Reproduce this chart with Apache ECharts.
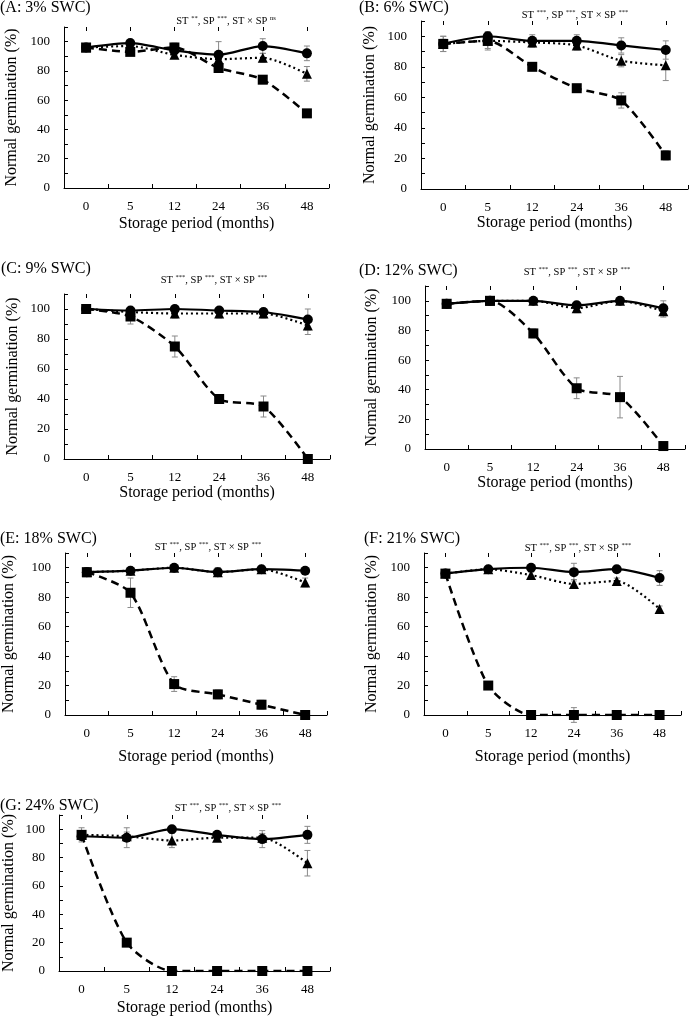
<!DOCTYPE html>
<html>
<head>
<meta charset="utf-8">
<script src="https://cdn.jsdelivr.net/npm/echarts@6/dist/echarts.min.js"></script>
<style>html,body{margin:0;padding:0;background:#fff;}#c{width:694px;height:1019px;}</style>
</head>
<body>
<div id="c"></div>
<script>
// ---- data ----
const categories = ['0', '5', '12', '24', '36', '48'];
const yTickLabels = [0, 20, 40, 60, 80, 100];
const panelTitles = ['(A: 3% SWC)', '(B: 6% SWC)', '(C: 9% SWC)', '(D: 12% SWC)', '(E: 18% SWC)', '(F: 21% SWC)', '(G: 24% SWC)'];
const sigST = ['**', '***', '***', '***', '***', '***', '***'];
const sigSP = ['***', '***', '***', '***', '***', '***', '***'];
const sigInt = ['ns', '***', '***', '***', '***', '***', '***'];

const A_circle = [96, 99, 94, 91, 97, 92];   const A_circleErr = [2, 2, 3, 9, 5, 5];
const A_triangle = [96, 97, 91, 88, 89, 78]; const A_triangleErr = [2, 2, 2, 2, 3, 5];
const A_square = [96, 93, 96, 82, 74, 51];   const A_squareErr = [2, 2, 3, 3, 2, 2];

const B_circle = [95, 100, 97, 97, 94, 91];  const B_circleErr = [5, 2, 4, 4, 5, 6];
const B_triangle = [95, 97, 96, 94, 84, 81]; const B_triangleErr = [3, 6, 3, 3, 4, 10];
const B_square = [95, 97, 80, 66, 58, 22];   const B_squareErr = [5, 5, 2, 2, 5, 3];

const C_circle = [100, 99, 100, 99, 98, 93]; const C_circleErr = [1, 2, 2, 2, 2, 7];
const C_triangle = [100, 98, 97, 97, 97, 89]; const C_triangleErr = [1, 2, 3, 3, 3, 6];
const C_square = [100, 95, 75, 40, 35, 0];   const C_squareErr = [1, 5, 7, 2, 7, 0];

const D_circle = [98, 100, 100, 97, 100, 95]; const D_circleErr = [1, 1, 1, 2, 1, 5];
const D_triangle = [98, 100, 100, 95, 100, 93]; const D_triangleErr = [1, 1, 1, 3, 1, 4];
const D_square = [98, 100, 78, 41, 35, 2];   const D_squareErr = [1, 1, 3, 7, 14, 1];

const E_circle = [97, 98, 100, 97, 99, 98];  const E_circleErr = [2, 2, 1, 3, 2, 2];
const E_triangle = [97, 98, 100, 97, 99, 90]; const E_triangleErr = [2, 2, 1, 3, 2, 3];
const E_square = [97, 83, 21, 14, 7, 0];     const E_squareErr = [3, 10, 5, 3, 3, 0];

const F_circle = [96, 99, 100, 97, 99, 93];  const F_circleErr = [2, 2, 1, 6, 2, 5];
const F_triangle = [96, 99, 95, 89, 91, 72]; const F_triangleErr = [2, 2, 2, 3, 2, 2];
const F_square = [96, 20, 0, 0, 0, 0];       const F_squareErr = [2, 2, 2, 5, 1, 0];

const G_circle = [95, 94, 100, 96, 93, 96];  const G_circleErr = [2, 7, 1, 2, 6, 6];
const G_triangle = [96, 95, 92, 94, 94, 76]; const G_triangleErr = [2, 3, 5, 2, 3, 9];
const G_square = [96, 20, 0, 0, 0, 0];       const G_squareErr = [5, 1, 0, 0, 0, 0];

const panelData = [
  [A_circle, A_circleErr, A_triangle, A_triangleErr, A_square, A_squareErr],
  [B_circle, B_circleErr, B_triangle, B_triangleErr, B_square, B_squareErr],
  [C_circle, C_circleErr, C_triangle, C_triangleErr, C_square, C_squareErr],
  [D_circle, D_circleErr, D_triangle, D_triangleErr, D_square, D_squareErr],
  [E_circle, E_circleErr, E_triangle, E_triangleErr, E_square, E_squareErr],
  [F_circle, F_circleErr, F_triangle, F_triangleErr, F_square, F_squareErr],
  [G_circle, G_circleErr, G_triangle, G_triangleErr, G_square, G_squareErr]
];

// ---- layout ----
const layout = [
  {left: 64,  top: 27,  width: 265, height: 161, tx: 0,   ty: 9,   ax: 226, ay: 21,  xGap: 28, yGap: 44},
  {left: 421, top: 21,  width: 267, height: 168, tx: 359, ty: 9,   ax: 575, ay: 15,  xGap: 26, yGap: 43},
  {left: 64,  top: 294, width: 266, height: 165, tx: 1,   ty: 270, ax: 214, ay: 280, xGap: 24, yGap: 43},
  {left: 425, top: 286, width: 260, height: 163, tx: 359, ty: 272, ax: 577, ay: 272, xGap: 22, yGap: 45},
  {left: 64,  top: 553, width: 263, height: 162, tx: 0,   ty: 540, ax: 208, ay: 547, xGap: 34, yGap: 48},
  {left: 424, top: 553, width: 257, height: 162, tx: 364, ty: 540, ax: 578, ay: 548, xGap: 34, yGap: 44},
  {left: 58,  top: 815, width: 272, height: 156, tx: 0,   ty: 807, ax: 228, ay: 808, xGap: 29, yGap: 42}
];

const FONT = 'Liberation Serif';
const grids = [], xAxes = [], yAxes = [], series = [], graphics = [];

function errRender(params, api) {
  const x = api.value(0), y = api.value(1), e = api.value(2);
  if (!e) return null;
  const hi = api.coord([x, y + e]);
  const lo = api.coord([x, y - e]);
  const w = 3;
  const st = {stroke: '#8a8a8a', lineWidth: 1};
  return {type: 'group', children: [
    {type: 'line', shape: {x1: hi[0], y1: hi[1], x2: lo[0], y2: lo[1]}, style: st},
    {type: 'line', shape: {x1: hi[0] - w, y1: hi[1], x2: hi[0] + w, y2: hi[1]}, style: st},
    {type: 'line', shape: {x1: lo[0] - w, y1: lo[1], x2: lo[0] + w, y2: lo[1]}, style: st}
  ]};
}

const styles = [
  {symbol: 'circle', size: 10, line: {type: 'solid', width: 2.2}},
  {symbol: 'triangle', size: 10, line: {type: [2, 3], width: 2.2}},
  {symbol: 'rect', size: 10, line: {type: [8, 5], width: 2.5}}
];

layout.forEach((L, g) => {
  grids.push({left: L.left, top: L.top, width: L.width, height: L.height, containLabel: false});
  xAxes.push({
    type: 'category', gridIndex: g, data: categories, boundaryGap: true,
    name: 'Storage period (months)', nameLocation: 'middle', nameGap: L.xGap,
    nameTextStyle: {fontFamily: FONT, fontSize: 16, color: '#000'},
    axisLine: {lineStyle: {color: '#000', width: 1}},
    axisTick: {show: true, inside: true, length: 4, lineStyle: {color: '#000'}},
    axisLabel: {fontFamily: FONT, fontSize: 13, color: '#000', margin: 12},
    splitLine: {show: false}
  });
  xAxes.push({
    type: 'category', gridIndex: g, data: categories, boundaryGap: true,
    axisLine: {show: false},
    axisTick: {show: true, inside: true, alignWithLabel: true, length: 4, lineStyle: {color: '#000'}},
    axisLabel: {show: false}, splitLine: {show: false}
  });
  yAxes.push({
    type: 'value', gridIndex: g, min: 0, max: 110, interval: 10,
    name: 'Normal germination (%)', nameLocation: 'middle', nameGap: L.yGap,
    nameTextStyle: {fontFamily: FONT, fontSize: 16, color: '#000'},
    axisLine: {show: true, lineStyle: {color: '#000', width: 1}},
    axisTick: {show: true, inside: true, length: 4, lineStyle: {color: '#000'}},
    axisLabel: {fontFamily: FONT, fontSize: 13, color: '#000', margin: 14,
      formatter: v => yTickLabels.includes(v) ? String(v) : ''},
    splitLine: {show: false}
  });
  const d = panelData[g];
  for (let s = 0; s < 3; s++) {
    const vals = d[s * 2], errs = d[s * 2 + 1];
    series.push({
      type: 'custom', xAxisIndex: 2 * g, yAxisIndex: g, z: 1,
      renderItem: errRender,
      data: vals.map((v, i) => [i, v, errs[i]]),
      silent: true
    });
  }
  for (let s = 0; s < 3; s++) {
    const vals = d[s * 2];
    series.push({
      type: 'line', xAxisIndex: 2 * g, yAxisIndex: g, z: 3 + s,
      data: vals, smooth: 0.25,
      symbol: styles[s].symbol, symbolSize: styles[s].size,
      itemStyle: {color: '#000'},
      lineStyle: {color: '#000', width: styles[s].line.width, type: styles[s].line.type},
      animation: false
    });
  }
  graphics.push({
    type: 'text', left: L.tx, top: L.ty - 9,
    style: {text: panelTitles[g], font: '16px "Liberation Serif"', fill: '#000'}
  });
  graphics.push({
    type: 'text', x: L.ax, y: L.ay,
    style: {
      text: '{m|ST }{s|' + sigST[g] + '}{m|, SP }{s|' + sigSP[g] + '}{m|, ST × SP }{s|' + sigInt[g] + '}',
      align: 'center', verticalAlign: 'middle',
      rich: {
        m: {fontFamily: FONT, fontSize: 10.5, lineHeight: 12, fill: '#000', verticalAlign: 'bottom'},
        s: {fontFamily: FONT, fontSize: 6.5, lineHeight: 8, fill: '#000', verticalAlign: 'top'}
      }
    }
  });
});

const chart = echarts.init(document.getElementById('c'), null, {renderer: 'canvas'});
chart.setOption({
  animation: false,
  backgroundColor: '#fff',
  grid: grids, xAxis: xAxes, yAxis: yAxes, series: series, graphic: graphics
});
</script>
</body>
</html>
